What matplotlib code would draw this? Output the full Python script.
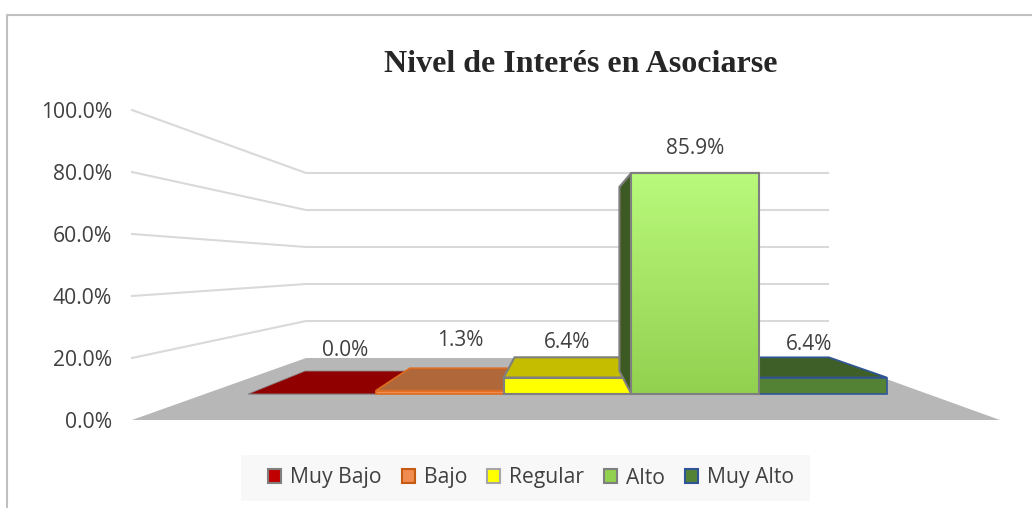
import numpy as np
import matplotlib
matplotlib.use('agg')
import matplotlib.pyplot as plt
from matplotlib.patches import Patch, Polygon, Rectangle

# Data
categories = ['Muy Bajo', 'Bajo', 'Regular', 'Alto', 'Muy Alto']
values = [0.0, 1.3, 6.4, 85.9, 6.4]
ticks = [0, 20, 40, 60, 80, 100]
title = 'Nivel de Interés en Asociarse'

# Colours per bar: front, top, left side, edge
front_cols = ['#c00000', '#f08c50', '#ffff00', '#92d050', '#548235']
top_cols = ['#900000', '#b0683a', '#c4bd00', '#6e9c3c', '#3f5f28']
side_cols = ['#700000', '#8a4f28', '#8f8a00', '#3d5a22', '#2f4a1e']
edge_cols = ['#8a8a8a', '#dd6b20', '#7f7f7f', '#7f7f7f', '#2f5597']
edge_lws = [0.6, 1.2, 1.5, 1.5, 1.2]
legend_cols = ['#c00000', '#f08c50', '#ffff00', '#92d050', '#548235']
legend_edges = ['#7f7f7f', '#c55a11', '#a6a6a6', '#7f7f7f', '#2f5597']

# Layout of the fake 3D box, in image pixels
W, H = 1032, 508
CX = 567.0
WALL_BACK_Y, WALL_BACK_L, WALL_BACK_R, WALL_SCALE = 358.0, 306.0, 828.0, 1.85
SIDE_FRONT_Y, SIDE_FRONT_L, SIDE_SCALE = 420.0, 132.0, 3.1
FLOOR_FRONT_R = 1000.0
BAR_FRONT_Y, BAR_FRONT_L, BAR_FRONT_W, BAR_FRONT_SCALE = 394.0, 248.0, 127.8, 2.573
BAR_BACK_Y, BAR_BACK_L, BAR_BACK_W, BAR_BACK_SCALE = 371.0, 305.0, 104.8, 2.14

# label placement: centre x, centre y for each bar
label_x = [345, 460, 567, 695, 809]
label_y = [349, 340, 341, 147, 343]

TEXT = '#404040'
GRID = '#d9d9d9'
plt.rcParams['font.family'] = ['Open Sans', 'DejaVu Sans']


def front(i, v):
    return BAR_FRONT_L + i * BAR_FRONT_W, BAR_FRONT_Y - v * BAR_FRONT_SCALE


def back(i, v):
    return BAR_BACK_L + i * BAR_BACK_W, BAR_BACK_Y - v * BAR_BACK_SCALE


def poly(ax, pts, fc, ec='none', lw=0.0, z=3):
    ax.add_patch(Polygon(pts, closed=True, facecolor=fc, edgecolor=ec, linewidth=lw, zorder=z, joinstyle='miter'))


def draw_bar(ax, i, z):
    v = values[i]
    ec = edge_cols[i]
    lw = edge_lws[i]
    # top face
    poly(ax, [front(i, v), front(i + 1, v), back(i + 1, v), back(i, v)], top_cols[i], ec, lw, z)
    # left side shows only for bars to the right of the centre
    if front(i, 0)[0] > CX:
        poly(ax, [front(i, 0), front(i, v), back(i, v), back(i, 0)], side_cols[i], ec, lw, z)
    # front face
    x0, y0 = front(i, v)
    x1, y1 = front(i + 1, 0)
    if categories[i] == 'Alto':
        grad = np.linspace(0, 1, 256)[:, None]
        c0 = np.array(matplotlib.colors.to_rgb('#b9f97b'))
        c1 = np.array(matplotlib.colors.to_rgb(front_cols[i]))
        img = c0[None, None, :] * (1 - grad[:, :, None]) + c1[None, None, :] * grad[:, :, None]
        ax.imshow(img, extent=[x0, x1, y1, y0], aspect='auto', zorder=z, interpolation='bilinear')
        poly(ax, [(x0, y0), (x1, y0), (x1, y1), (x0, y1)], 'none', ec, lw, z + 0.1)
    else:
        poly(ax, [(x0, y0), (x1, y0), (x1, y1), (x0, y1)], front_cols[i], ec, lw, z)


fig = plt.figure(figsize=(W / 100, H / 100), dpi=100)
ax = fig.add_axes([0, 0, 1, 1])

# Chart frame
ax.plot([7, 7, W], [H, 15, 15], color='#c0c0c0', lw=1.5, zorder=1)

# Gridlines on the side and back walls, with axis labels
for t in ticks:
    yf = SIDE_FRONT_Y - t * SIDE_SCALE
    yb = WALL_BACK_Y - t * WALL_SCALE
    if t > 0:
        ax.plot([SIDE_FRONT_L, WALL_BACK_L, WALL_BACK_R], [yf, yb, yb], color=GRID, lw=1.5, zorder=1)
    ax.text(112, yf + 2, '%.1f%%' % t, ha='right', va='center', fontsize=15.2, color=TEXT)

# Floor
poly(ax, [(SIDE_FRONT_L, SIDE_FRONT_Y), (FLOOR_FRONT_R, SIDE_FRONT_Y), (WALL_BACK_R, WALL_BACK_Y), (WALL_BACK_L, WALL_BACK_Y)], '#b7b7b7', z=2)

# Bars, far sides first so the tall one hides what is behind it
for z, i in enumerate([0, 1, 4, 2, 3]):
    draw_bar(ax, i, 3 + z)

for i, v in enumerate(values):
    ax.text(label_x[i], label_y[i] + 1, '%.1f%%' % v, ha='center', va='center', fontsize=15, color=TEXT, zorder=10)

ax.text(580.5, 64, title, ha='center', va='center', fontsize=23, fontweight='bold',
        family='Liberation Serif', color='#262626')

# Legend band is wider than it is tall, so the background is a separate box
ax.add_patch(Rectangle((241, 455), 569, 46, facecolor='#f8f8f8', edgecolor='none', zorder=9))
handles = [Patch(facecolor=c, edgecolor=e, linewidth=1.5) for c, e in zip(legend_cols, legend_edges)]
leg = ax.legend(handles, categories, ncol=5, loc='center', bbox_to_anchor=(531, 478),
                bbox_transform=ax.transData, fontsize=15.2, frameon=False,
                handlelength=0.62, handleheight=0.62,
                handletextpad=0.42, columnspacing=0.95, labelcolor=TEXT)
leg.set_zorder(10)

ax.set_xlim(0, W)
ax.set_ylim(H, 0)
ax.axis('off')
fig.savefig('out.png', dpi=100)
